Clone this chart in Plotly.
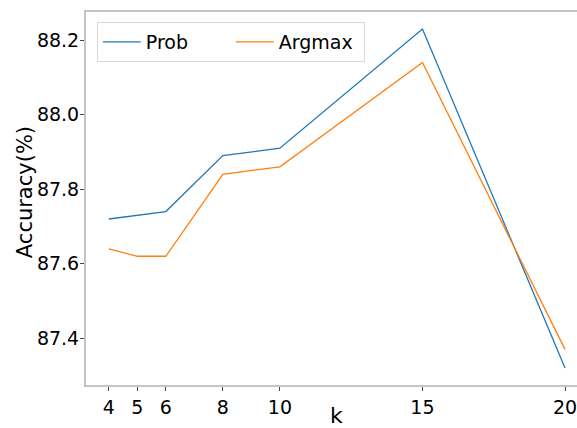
import plotly.graph_objects as go

k_values = [4, 5, 6, 8, 10, 15, 20]
prob_acc = [87.72, 87.73, 87.74, 87.89, 87.91, 88.23, 87.32]
argmax_acc = [87.64, 87.62, 87.62, 87.84, 87.86, 88.14, 87.37]
y_ticks = [87.4, 87.6, 87.8, 88.0, 88.2]
y_tick_labels = ["87.4", "87.6", "87.8", "88.0", "88.2"]

FONT = "DejaVu Sans"
SPINE = "#c4c4c4"

fig = go.Figure()
fig.add_trace(go.Scatter(x=k_values, y=prob_acc, mode="lines", name="Prob",
                         line=dict(color="#1f77b4", width=1.3)))
fig.add_trace(go.Scatter(x=k_values, y=argmax_acc, mode="lines", name="Argmax",
                         line=dict(color="#ff7f0e", width=1.3)))

fig.update_layout(
    width=577, height=428,
    margin=dict(l=86, r=0, t=12, b=43),
    plot_bgcolor="white", paper_bgcolor="white",
    font=dict(family=FONT, color="black", size=19),
    legend=dict(orientation="h", x=0.022, y=0.973, xanchor="left", yanchor="top",
                bordercolor="#d9d9d9", borderwidth=1, bgcolor="rgba(255,255,255,0.8)",
                font=dict(size=19, family=FONT), entrywidth=80, entrywidthmode="pixels",
                itemwidth=38),
    xaxis=dict(range=[3.2, 20.42], tickvals=k_values, ticktext=[str(v) for v in k_values],
               showgrid=False, zeroline=False, showline=True, linecolor=SPINE, linewidth=2,
               mirror=True, ticks="outside", ticklen=4, tickcolor="#444", automargin=False,
               ticklabeloverflow="allow",
               tickfont=dict(size=19, family=FONT)),
    yaxis=dict(range=[87.2745, 88.2755], tickvals=y_ticks, ticktext=y_tick_labels,
               showgrid=False, zeroline=False, showline=True, linecolor=SPINE, linewidth=2,
               ticks="outside", ticklen=4, tickcolor="#444", automargin=False,
               ticklabeloverflow="allow", ticklabelstandoff=-3,
               tickfont=dict(size=19, family=FONT)),
    annotations=[
        dict(text="k", xref="paper", yref="paper", x=0.511, y=-0.083,
             xanchor="center", yanchor="middle", showarrow=False,
             font=dict(size=22, family=FONT, color="black")),
        dict(text="Accuracy(%)", xref="paper", yref="paper", x=-0.125, y=0.516,
             xanchor="center", yanchor="middle", showarrow=False, textangle=-90,
             font=dict(size=21, family=FONT, color="black")),
    ],
)

fig.write_html("out.html", config={"displayModeBar": False},
               post_script="document.body.style.margin='0';document.body.style.overflow='hidden';")
